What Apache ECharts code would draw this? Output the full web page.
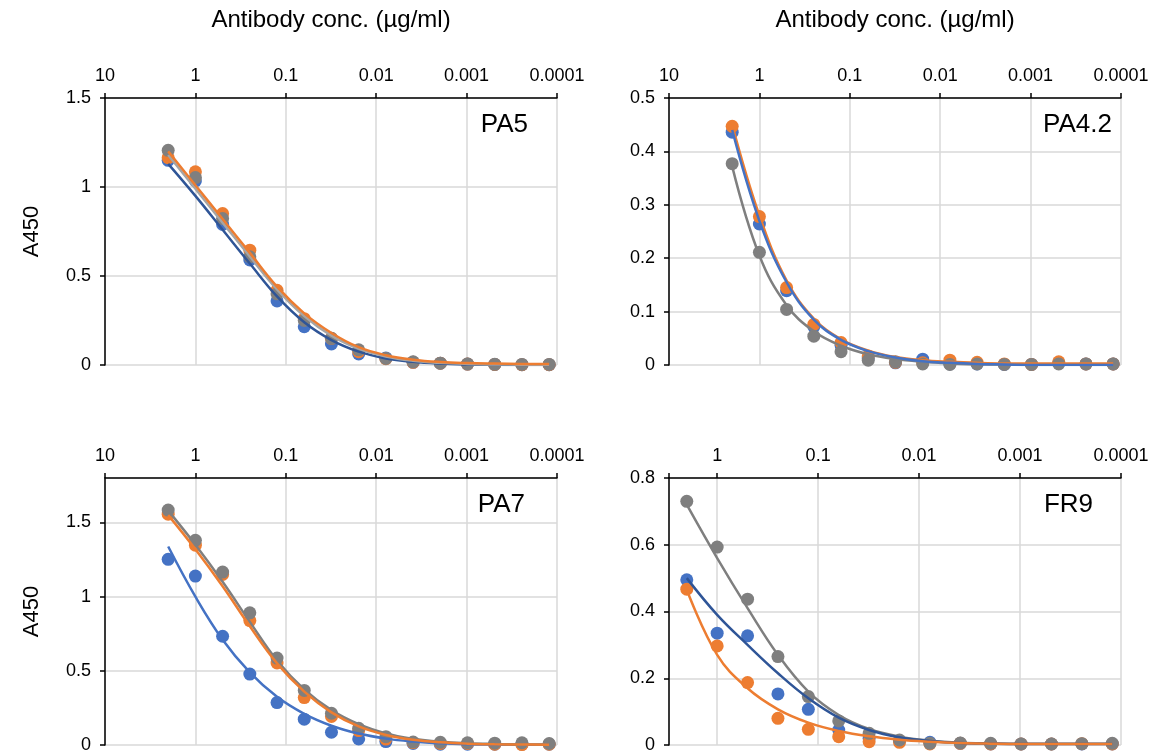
<!DOCTYPE html>
<html>
<head>
<meta charset="utf-8">
<title>ELISA binding curves</title>
<script src="https://cdn.jsdelivr.net/npm/echarts@6/dist/echarts.min.js"></script>
<style>
    html, body { margin: 0; padding: 0; background: #fff; }
    #chartDiv { width: 1167px; height: 756px; }
</style>
</head>
<body>
<div id="chartDiv"></div>
<script>
    // antibody concentration, 2-fold dilutions (µg/ml)
    var conc = [2, 1, 0.5, 0.25, 0.125, 0.0625, 0.03125, 0.015625, 0.0078125, 0.00390625,
        0.001953125, 0.0009765625, 0.00048828125, 0.000244140625, 0.0001220703125];
    var xTickLabels = ['10', '1', '0.1', '0.01', '0.001', '0.0001'];
    var panelNames = ['PA5', 'PA4.2', 'PA7', 'FR9'];

    // PA5
    var pa5Blue = [1.15, 1.034, 0.79, 0.59, 0.36, 0.215, 0.118, 0.062, 0.04, 0.015, 0.01, 0.005, 0.003, 0.002, 0.002];
    var pa5Orange = [1.165, 1.085, 0.851, 0.645, 0.42, 0.26, 0.15, 0.075, 0.035, 0.015, 0.01, 0.005, 0.003, 0.002, 0.002];
    var pa5Gray = [1.206, 1.053, 0.823, 0.608, 0.40, 0.25, 0.15, 0.085, 0.037, 0.018, 0.01, 0.006, 0.004, 0.003, 0.003];
    var pa5BlueFit = [1.13, 0.95, 0.76, 0.57, 0.385, 0.24, 0.14, 0.075, 0.037, 0.018, 0.008, 0.003, 0.001, 0, 0];
    var pa5OrangeFit = [1.2, 1.01, 0.82, 0.63, 0.44, 0.29, 0.18, 0.1, 0.055, 0.03, 0.017, 0.011, 0.008, 0.006, 0.005];
    var pa5GrayFit = [1.18, 0.99, 0.8, 0.61, 0.425, 0.275, 0.165, 0.092, 0.048, 0.024, 0.012, 0.006, 0.003, 0.002, 0.001];

    // PA4.2
    var pa42Blue = [0.436, 0.264, 0.139, 0.072, 0.037, 0.013, 0.004, 0.011, 0.002, 0.002, 0.001, 0.001, 0.004, 0.002, 0.002];
    var pa42Orange = [0.447, 0.278, 0.145, 0.076, 0.042, 0.017, 0.005, 0.004, 0.009, 0.005, 0.002, 0.001, 0.006, 0.002, 0.002];
    var pa42Gray = [0.377, 0.211, 0.104, 0.054, 0.025, 0.009, 0.006, 0.002, 0.001, 0.002, 0.001, 0.001, 0.002, 0.002, 0.002];
    var pa42BlueFit = [0.44, 0.27, 0.155, 0.085, 0.047, 0.026, 0.014, 0.007, 0.004, 0.002, 0.001, 0, 0, 0, 0];
    var pa42OrangeFit = [0.45, 0.28, 0.158, 0.087, 0.048, 0.027, 0.015, 0.009, 0.006, 0.004, 0.003, 0.003, 0.003, 0.003, 0.003];
    var pa42GrayFit = [0.372, 0.205, 0.112, 0.063, 0.036, 0.02, 0.011, 0.006, 0.003, 0.0015, 0.001, 0.001, 0.001, 0.001, 0.001];

    // PA7
    var pa7Blue = [1.252, 1.139, 0.733, 0.478, 0.286, 0.174, 0.086, 0.041, 0.023, 0.01, 0.005, 0.005, 0.005, 0.005, 0.005];
    var pa7Orange = [1.556, 1.347, 1.15, 0.839, 0.553, 0.32, 0.192, 0.097, 0.04, 0.015, 0.01, 0.01, 0.005, 0.003, 0.005];
    var pa7Gray = [1.584, 1.38, 1.166, 0.891, 0.586, 0.368, 0.214, 0.113, 0.056, 0.02, 0.018, 0.015, 0.012, 0.015, 0.01];
    var pa7BlueFit = [1.338, 1.0, 0.71, 0.49, 0.325, 0.21, 0.13, 0.077, 0.043, 0.023, 0.011, 0.005, 0.003, 0.002, 0.001];
    var pa7OrangeFit = [1.55, 1.32, 1.07, 0.8, 0.55, 0.36, 0.22, 0.125, 0.068, 0.035, 0.018, 0.009, 0.005, 0.003, 0.002];
    var pa7GrayFit = [1.58, 1.35, 1.1, 0.83, 0.57, 0.375, 0.235, 0.14, 0.078, 0.042, 0.022, 0.012, 0.007, 0.004, 0.003];

    // FR9
    var fr9Blue = [0.495, 0.335, 0.327, 0.153, 0.107, 0.045, 0.02, 0.012, 0.008, 0.005, 0.003, 0.003, 0.003, 0.003, 0.003];
    var fr9Orange = [0.467, 0.297, 0.187, 0.08, 0.047, 0.025, 0.01, 0.008, 0.003, 0.005, 0.003, 0.003, 0.003, 0.004, 0.003];
    var fr9Gray = [0.73, 0.593, 0.437, 0.265, 0.145, 0.072, 0.035, 0.015, 0.005, 0.006, 0.005, 0.003, 0.003, 0.004, 0.005];
    var fr9BlueFit = [0.5, 0.39, 0.3, 0.215, 0.14, 0.082, 0.045, 0.023, 0.012, 0.006, 0.004, 0.003, 0.003, 0.003, 0.003];
    var fr9OrangeFit = [0.465, 0.27, 0.17, 0.107, 0.067, 0.042, 0.026, 0.016, 0.01, 0.006, 0.004, 0.003, 0.003, 0.003, 0.003];
    var fr9GrayFit = [0.72, 0.56, 0.41, 0.27, 0.16, 0.09, 0.048, 0.025, 0.013, 0.007, 0.005, 0.004, 0.004, 0.004, 0.004];

    var BLUE = '#4472C4', ORANGE = '#ED7D31', GRAY = '#7F7F7F', NAVY = '#2F5597', LIGHTGRAY = '#A5A5A5';
    var FONT = 'Liberation Sans, Arial, sans-serif';

    // one entry per panel: grid box, axis range, data and fit line colours
    var panels = [
        {grid: {left: 105, top: 98}, xMax: 10, yMax: 1.5, yStep: 0.5,
            pts: [pa5Blue, pa5Orange, pa5Gray], fits: [pa5BlueFit, pa5GrayFit, pa5OrangeFit],
            fitColors: [NAVY, LIGHTGRAY, ORANGE], label: {right: 528, y: 127}},
        {grid: {left: 669, top: 98}, xMax: 10, yMax: 0.5, yStep: 0.1,
            pts: [pa42Blue, pa42Orange, pa42Gray], fits: [pa42GrayFit, pa42OrangeFit, pa42BlueFit],
            fitColors: [GRAY, ORANGE, BLUE], label: {right: 1112, y: 127}},
        {grid: {left: 105, top: 478}, xMax: 10, yMax: 1.8, yStep: 0.5,
            pts: [pa7Blue, pa7Orange, pa7Gray], fits: [pa7BlueFit, pa7GrayFit, pa7OrangeFit],
            fitColors: [BLUE, GRAY, ORANGE], label: {right: 525, y: 507}},
        {grid: {left: 669, top: 478}, xMax: 3, yMax: 0.8, yStep: 0.2,
            pts: [fr9Blue, fr9Orange, fr9Gray], fits: [fr9GrayFit, fr9BlueFit, fr9OrangeFit],
            fitColors: [GRAY, NAVY, ORANGE], label: {right: 1093, y: 507}}
    ];
    var ptColors = [BLUE, ORANGE, GRAY];

    function pairs(ys) {
        return conc.map(function (c, i) { return [c, ys[i]]; });
    }

    function xLabel(v) {
        var e = Math.log(v) / Math.LN10;
        if (Math.abs(e - Math.round(e)) > 0.01) return '';
        return xTickLabels[1 - Math.round(e)] || '';
    }

    var grids = [], xAxes = [], yAxes = [], series = [], graphics = [];

    panels.forEach(function (p, k) {
        grids.push({left: p.grid.left, top: p.grid.top, width: 452, height: 267});
        xAxes.push({
            gridIndex: k, type: 'log', logBase: 10, position: 'top', inverse: true,
            min: 0.0001, max: p.xMax, interval: 1,
            name: k < 2 ? 'Antibody conc. (µg/ml)' : '',
            nameLocation: 'middle', nameGap: 66,
            nameTextStyle: {fontFamily: FONT, fontSize: 24, color: '#000'},
            axisLine: {onZero: false, lineStyle: {color: '#000', width: 1.5}},
            axisTick: {show: true, inside: false, length: 5, lineStyle: {color: '#000', width: 1.5}},
            axisLabel: {formatter: xLabel, margin: 13, fontFamily: FONT, fontSize: 18, color: '#000',
                showMinLabel: true, showMaxLabel: true, hideOverlap: false},
            splitLine: {show: true, lineStyle: {color: '#D9D9D9', width: 1.5}},
            minorTick: {show: false}
        });
        yAxes.push({
            gridIndex: k, type: 'value', min: 0, max: p.yMax, interval: p.yStep,
            name: k % 2 == 0 ? 'A450' : '',
            nameLocation: 'middle', nameGap: 62,
            nameTextStyle: {fontFamily: FONT, fontSize: 22, color: '#000'},
            axisLine: {show: true, lineStyle: {color: '#000', width: 1.5}},
            axisTick: {show: true, length: 5, lineStyle: {color: '#000', width: 1.5}},
            axisLabel: {margin: 14, fontFamily: FONT, fontSize: 18, color: '#000', showMaxLabel: p.yMax % p.yStep < 1e-9 || p.yStep - p.yMax % p.yStep < 1e-9},
            splitLine: {show: true, lineStyle: {color: '#D9D9D9', width: 1.5}}
        });
        // measured points
        p.pts.forEach(function (ys, j) {
            series.push({
                type: 'scatter', xAxisIndex: k, yAxisIndex: k, data: pairs(ys),
                symbol: 'circle', symbolSize: 13, itemStyle: {color: ptColors[j], opacity: 1},
                silent: true, z: 2
            });
        });
        // fitted curves
        p.fits.forEach(function (ys, j) {
            series.push({
                type: 'line', xAxisIndex: k, yAxisIndex: k, data: pairs(ys),
                smooth: 0.4, showSymbol: false, symbol: 'none',
                lineStyle: {color: p.fitColors[j], width: 2.5},
                silent: true, z: 3
            });
        });
        graphics.push({
            type: 'text', right: 1167 - p.label.right, top: p.label.y - 15,
            style: {text: panelNames[k], font: '26px ' + FONT, fill: '#000'}
        });
    });

    var chart = echarts.init(document.getElementById('chartDiv'));
    chart.setOption({
        animation: false,
        backgroundColor: '#fff',
        grid: grids,
        xAxis: xAxes,
        yAxis: yAxes,
        series: series,
        graphic: graphics
    });
</script>
</body>
</html>
